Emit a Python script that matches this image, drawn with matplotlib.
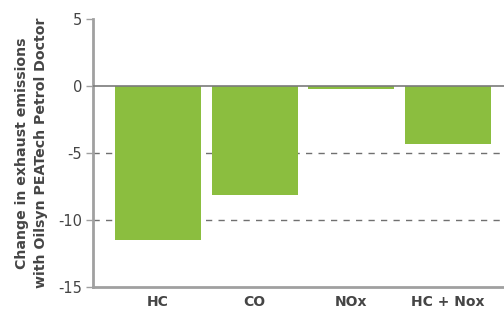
import matplotlib.pyplot as plt

categories = ["HC", "CO", "NOx", "HC + Nox"]
change = [-11.5, -8.1, -0.25, -4.3]
y_ticks = [5, 0, -5, -10, -15]

plt.rcParams['font.family'] = ['DejaVu Sans']
text_col = "#454545"
axis_col = "#a0a0a0"

fig = plt.figure(figsize=(5.04, 3.09), dpi=100)
ax = fig.add_axes([93 / 504, 22 / 309, 1 - 93 / 504, 268 / 309])

x = range(len(categories))
ax.bar(x, change, width=0.89, color="#8bbe3f", zorder=2)

ax.set_ylim(-15, 5)
ax.set_xlim(-0.67, 3.577)
ax.set_yticks(y_ticks)
ax.set_yticklabels([str(v) for v in y_ticks])
ax.set_xticks(list(x))
ax.set_xticklabels(categories, fontweight="bold")

# zero line solid, grid lines dashed
ax.axhline(0, color="#7a7a7a", lw=1.2, zorder=3)
for v in (-5, -10):
    ax.axhline(v, color="#707070", lw=1, ls=(0, (4.5, 4.5)), zorder=1)

for s in ("top", "right"):
    ax.spines[s].set_visible(False)
for s in ("left", "bottom"):
    ax.spines[s].set_color(axis_col)
    ax.spines[s].set_linewidth(2)

ax.tick_params(axis="y", length=5, width=1, color=axis_col, labelcolor=text_col,
               labelsize=10.5, pad=3)
ax.tick_params(axis="x", length=0, labelcolor=text_col, labelsize=10, pad=6)

ax.set_ylabel("Change in exhaust emissions\nwith Oilsyn PEATech Petrol Doctor",
              fontsize=10.2, fontweight="bold", color=text_col, labelpad=7,
              linespacing=1.45)

fig.savefig("out.png", dpi=100)
